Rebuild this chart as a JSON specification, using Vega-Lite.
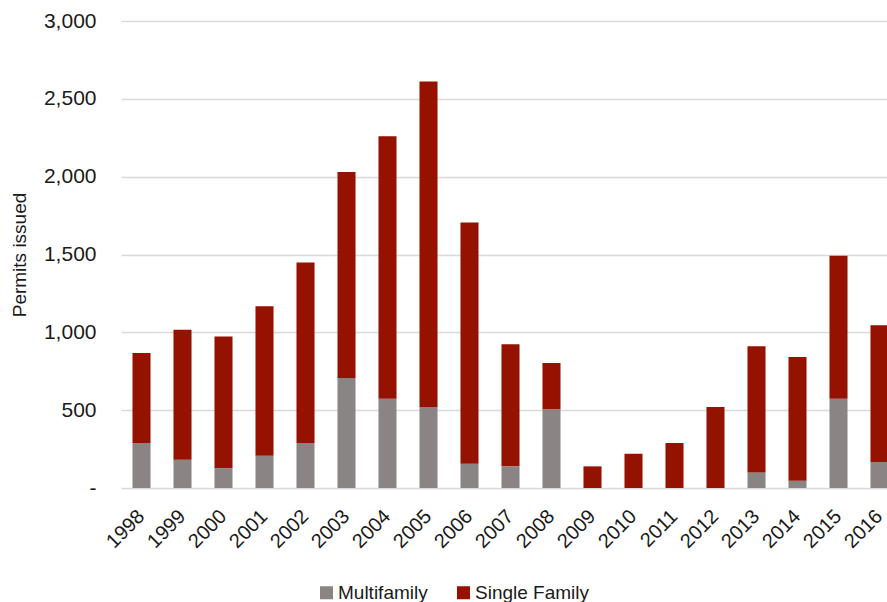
{
  "$schema": "https://vega.github.io/schema/vega-lite/v6.json",
  "autosize": {"type": "none"},
  "padding": {"left": 121, "top": 21, "right": 0, "bottom": 114},
  "width": 766,
  "height": 467,
  "background": "white",
  "config": {
    "view": {"stroke": null},
    "font": "Liberation Sans",
    "axis": {"labelColor": "#1a1a1a", "titleColor": "#1a1a1a", "labelFont": "Liberation Sans", "titleFont": "Liberation Sans"}
  },
  "data": {
    "values": [
      {"year": "1998", "type": "Multifamily", "permits": 289},
      {"year": "1998", "type": "Single Family", "permits": 578},
      {"year": "1999", "type": "Multifamily", "permits": 182},
      {"year": "1999", "type": "Single Family", "permits": 835},
      {"year": "2000", "type": "Multifamily", "permits": 128},
      {"year": "2000", "type": "Single Family", "permits": 846},
      {"year": "2001", "type": "Multifamily", "permits": 207},
      {"year": "2001", "type": "Single Family", "permits": 960},
      {"year": "2002", "type": "Multifamily", "permits": 289},
      {"year": "2002", "type": "Single Family", "permits": 1160},
      {"year": "2003", "type": "Multifamily", "permits": 707},
      {"year": "2003", "type": "Single Family", "permits": 1323},
      {"year": "2004", "type": "Multifamily", "permits": 574},
      {"year": "2004", "type": "Single Family", "permits": 1685},
      {"year": "2005", "type": "Multifamily", "permits": 520},
      {"year": "2005", "type": "Single Family", "permits": 2092},
      {"year": "2006", "type": "Multifamily", "permits": 156},
      {"year": "2006", "type": "Single Family", "permits": 1550},
      {"year": "2007", "type": "Multifamily", "permits": 139},
      {"year": "2007", "type": "Single Family", "permits": 784},
      {"year": "2008", "type": "Multifamily", "permits": 505},
      {"year": "2008", "type": "Single Family", "permits": 298},
      {"year": "2009", "type": "Multifamily", "permits": 0},
      {"year": "2009", "type": "Single Family", "permits": 139},
      {"year": "2010", "type": "Multifamily", "permits": 0},
      {"year": "2010", "type": "Single Family", "permits": 220},
      {"year": "2011", "type": "Multifamily", "permits": 0},
      {"year": "2011", "type": "Single Family", "permits": 289},
      {"year": "2012", "type": "Multifamily", "permits": 0},
      {"year": "2012", "type": "Single Family", "permits": 520},
      {"year": "2013", "type": "Multifamily", "permits": 100},
      {"year": "2013", "type": "Single Family", "permits": 810},
      {"year": "2014", "type": "Multifamily", "permits": 47},
      {"year": "2014", "type": "Single Family", "permits": 795},
      {"year": "2015", "type": "Multifamily", "permits": 574},
      {"year": "2015", "type": "Single Family", "permits": 918},
      {"year": "2016", "type": "Multifamily", "permits": 167},
      {"year": "2016", "type": "Single Family", "permits": 878}
    ]
  },
  "mark": {"type": "bar"},
  "encoding": {
    "x": {
      "field": "year",
      "type": "ordinal",
      "scale": {"range": [0, 779], "paddingInner": 0.56, "paddingOuter": 0.28},
      "axis": {
        "title": null,
        "domain": false,
        "ticks": false,
        "labelAngle": -45,
        "labelAlign": "right",
        "labelBaseline": "middle",
        "labelPadding": 25,
        "labelFontSize": 20
      }
    },
    "y": {
      "field": "permits",
      "type": "quantitative",
      "aggregate": "sum",
      "stack": "zero",
      "scale": {"domain": [0, 3000], "nice": false},
      "axis": {
        "title": "Permits issued",
        "titleFontSize": 19,
        "titleFontWeight": "normal",
        "titleX": -102,
        "titleY": 233.5,
        "titleAlign": "center",
        "titleBaseline": "middle",
        "titleAngle": -90,
        "values": [0, 500, 1000, 1500, 2000, 2500, 3000],
        "labelExpr": "datum.value === 0 ? '-\u00a0\u00a0\u00a0' : format(datum.value, ',')",
        "labelFontSize": 21,
        "labelPadding": 25,
        "domain": false,
        "ticks": false,
        "grid": true,
        "gridColor": "#d9d9d9",
        "gridWidth": 1.3
      }
    },
    "order": {"field": "type", "sort": "ascending"},
    "color": {
      "field": "type",
      "type": "nominal",
      "scale": {"domain": ["Multifamily", "Single Family"], "range": ["#8a8584", "#961200"]},
      "legend": {
        "title": null,
        "orient": "none",
        "direction": "horizontal",
        "legendX": 196,
        "legendY": 562,
        "symbolType": "square",
        "symbolSize": 169,
        "symbolStrokeWidth": 0,
        "labelFontSize": 19,
        "labelColor": "#1a1a1a",
        "labelOffset": 2,
        "columnPadding": 26
      }
    }
  }
}
